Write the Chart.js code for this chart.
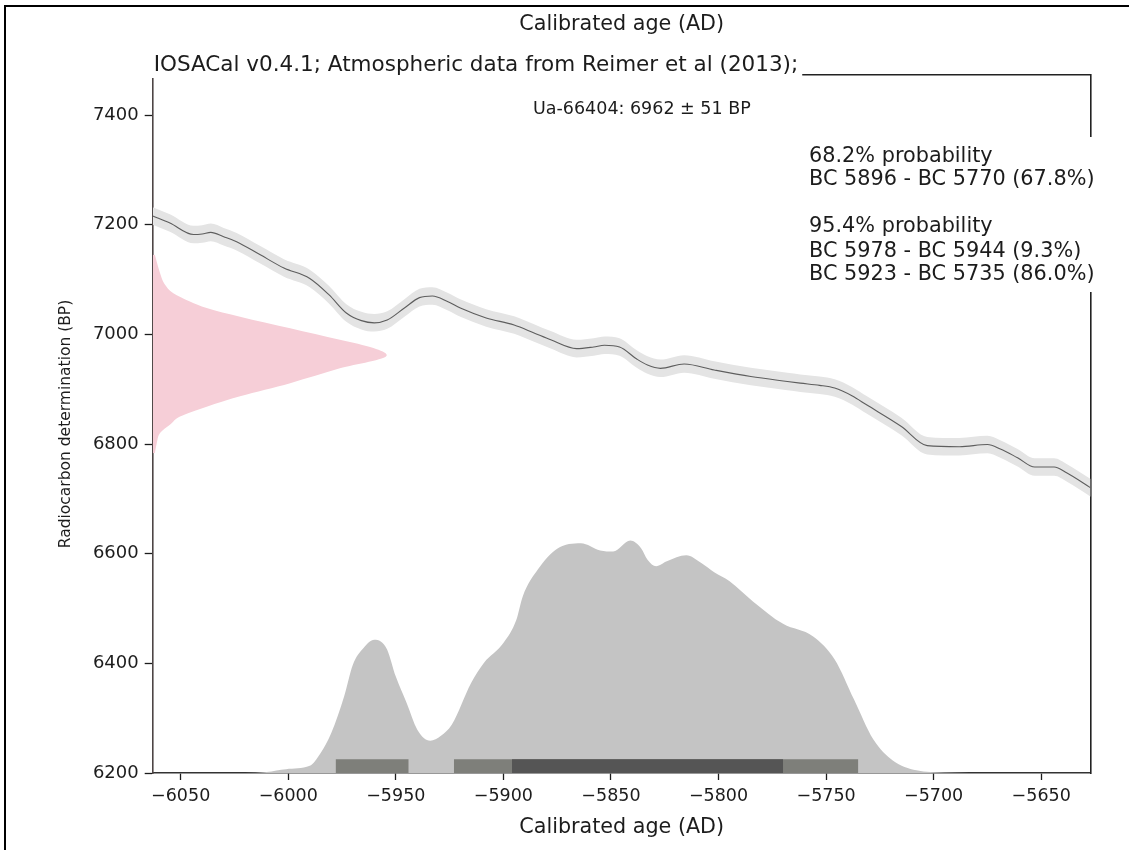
<!DOCTYPE html>
<html>
<head>
<meta charset="utf-8">
<title>Ua-66404 calibration</title>
<script src="https://cdn.jsdelivr.net/npm/chart.js@4.4.1/dist/chart.umd.min.js"></script>
<style>
  html, body { margin: 0; padding: 0; background: #fff; }
  #wrap { position: relative; width: 1129px; height: 850px; }
  #frame { position: absolute; left: 4px; top: 5px; right: 0; bottom: 0;
           border-top: 2px solid #000; border-left: 2px solid #000; pointer-events: none; }
</style>
</head>
<body>
<div id="wrap">
  <canvas id="calChart" width="1129" height="850"></canvas>
  <div id="frame"></div>
</div>
<script>
// axis ranges and ticks
const X_MIN = -6063, X_MAX = -5627;
const Y_MIN = 6200, Y_MAX = 7473;
const xTicks = [-6050, -6000, -5950, -5900, -5850, -5800, -5750, -5700, -5650];
const yTicks = [6200, 6400, 6600, 6800, 7000, 7200, 7400];

// calibration curve (IntCal13)
const curveYears = [-6063, -6055, -6044, -6040, -6036, -6030, -6024, -6013, -6002, -5990,
                    -5981, -5973, -5966, -5960, -5954, -5946, -5939, -5933, -5926, -5920,
                    -5908, -5895, -5886, -5878, -5866, -5858, -5853, -5846, -5838, -5833,
                    -5827, -5816, -5802, -5785, -5768, -5762, -5753, -5746, -5738, -5731,
                    -5715, -5703, -5688, -5675, -5669, -5661, -5653, -5644, -5638, -5627];
const curveBP = [7216, 7203, 7182, 7183, 7186, 7178, 7169, 7145, 7121, 7102,
                 7072, 7039, 7025, 7021, 7026, 7048, 7067, 7070, 7060, 7048,
                 7030, 7017, 7003, 6990, 6974, 6977, 6980, 6977, 6955, 6944,
                 6938, 6946, 6935, 6923, 6914, 6911, 6907, 6902, 6888, 6871,
                 6832, 6797, 6795, 6799, 6791, 6775, 6758, 6758, 6747, 6720];
const curveSigma = [16, 16, 16, 16, 16, 16, 16, 16, 16, 16,
                    16, 16, 16, 16, 16, 16, 16, 16, 16, 16,
                    16, 16, 16, 16, 16, 16, 16, 16, 16, 16,
                    16, 16, 16, 16, 16, 16, 16, 16, 16, 16,
                    16, 16, 16, 16, 16, 16, 16, 16, 16, 16];

// calibrated date distribution (drawn up from the 6200 baseline)
const calYears = [-6020, -6010, -6001, -5990, -5985, -5980, -5974, -5970, -5965, -5960,
                  -5957, -5954, -5950, -5945, -5940, -5934, -5929, -5924, -5915, -5909,
                  -5900, -5894, -5891, -5884, -5875, -5864, -5855, -5849, -5841, -5836,
                  -5833, -5829, -5824, -5815, -5808, -5802, -5795, -5784, -5770, -5756,
                  -5746, -5737, -5728, -5719, -5708, -5695, -5672];
const calDensity = [6200, 6202, 6207, 6213, 6236, 6273, 6340, 6397, 6428, 6443,
                    6440, 6425, 6376, 6328, 6279, 6259, 6268, 6288, 6364, 6401,
                    6437, 6479, 6522, 6571, 6609, 6619, 6606, 6604, 6624, 6610,
                    6589, 6577, 6586, 6597, 6583, 6566, 6550, 6513, 6472, 6449,
                    6407, 6334, 6261, 6223, 6205, 6201, 6200];

// radiocarbon determination, drawn sideways from the left axis
const dateBP = [6783, 6802, 6820, 6835, 6850, 6868, 6887, 6911, 6938, 6962,
                6975, 6990, 7011, 7032, 7048, 7060, 7075, 7092, 7112, 7145];
const dateDensity = [-6062, -6061.1, -6059.6, -6055, -6050.3, -6037.9, -6022.4, -5999.1, -5976, -5954.2,
                     -5960.4, -5976, -5999.1, -6022.4, -6037.9, -6045.7, -6053.4, -6057.5, -6059.6, -6062];

// highest density ranges
const hpd95 = [[-5978, -5944], [-5923, -5735]];
const hpd68 = [[-5896, -5770]];
const BAR_TOP = 6225;

const sampleLabel = 'Ua-66404: 6962 \u00b1 51 BP';
const headerLabel = 'IOSACal v0.4.1; Atmospheric data from Reimer et al (2013);';
const probLines = ['68.2% probability', 'BC 5896 - BC 5770 (67.8%)', '',
                   '95.4% probability', 'BC 5978 - BC 5944 (9.3%)', 'BC 5923 - BC 5735 (86.0%)'];

const FONT = '"DejaVu Sans", Verdana, sans-serif';
const INK = '#1c1c1c';

const zip = (xs, ys) => xs.map((x, i) => ({ x, y: ys[i] }));

function barSet(range, color) {
    return {
        data: [{ x: range[0], y: BAR_TOP }, { x: range[1], y: BAR_TOP }],
        borderWidth: 0,
        pointRadius: 0,
        backgroundColor: color,
        fill: { value: Y_MIN },
        tension: 0
    };
}

const datasets = [];
hpd68.forEach(r => datasets.push(barSet(r, '#555555')));
hpd95.forEach(r => datasets.push(barSet(r, '#7e7f7a')));
datasets.push({
    data: zip(calYears, calDensity),
    borderWidth: 0,
    pointRadius: 0,
    backgroundColor: '#c4c4c4',
    fill: { value: Y_MIN },
    cubicInterpolationMode: 'monotone'
});
datasets.push({
    data: zip(dateDensity, dateBP),
    indexAxis: 'y',
    borderWidth: 0,
    pointRadius: 0,
    backgroundColor: '#f6ced7',
    fill: { value: X_MIN },
    cubicInterpolationMode: 'monotone'
});
datasets.push({
    data: zip(curveYears, curveBP),
    borderColor: '#5e5e5e',
    borderWidth: 1.1,
    pointRadius: 0,
    fill: false,
    cubicInterpolationMode: 'monotone'
});
datasets.push({
    data: zip(curveYears, curveBP.map((v, i) => v + curveSigma[i])),
    borderWidth: 0,
    pointRadius: 0,
    fill: false,
    cubicInterpolationMode: 'monotone'
});
datasets.push({
    data: zip(curveYears, curveBP.map((v, i) => v - curveSigma[i])),
    borderWidth: 0,
    pointRadius: 0,
    backgroundColor: '#e4e4e4',
    fill: '-1',
    cubicInterpolationMode: 'monotone'
});

// texts that sit on white boxes over the frame
const textPlugin = {
    id: 'calTexts',
    afterDraw(chart) {
        const { ctx, chartArea } = chart;
        ctx.save();
        ctx.textBaseline = 'alphabetic';
        ctx.textAlign = 'left';

        ctx.font = '21.5px ' + FONT;
        const hw = ctx.measureText(headerLabel).width;
        ctx.fillStyle = '#fff';
        ctx.fillRect(chartArea.left - 1, chartArea.top - 22, hw + 6, 25);
        ctx.fillStyle = INK;
        ctx.fillText(headerLabel, chartArea.left + 1, chartArea.top - 4);

        ctx.font = '17.5px ' + FONT;
        ctx.fillText(sampleLabel, 533, 114);

        ctx.font = '20.8px ' + FONT;
        const pw = Math.max(...probLines.map(t => ctx.measureText(t).width));
        ctx.fillStyle = '#fff';
        ctx.fillRect(805, 137, pw + 8, 155);
        ctx.fillStyle = INK;
        const baselines = [162, 185, 208, 232, 257, 280];
        probLines.forEach((t, i) => ctx.fillText(t, 809, baselines[i]));
        ctx.restore();
    }
};

const ctx = document.getElementById('calChart').getContext('2d');
new Chart(ctx, {
    type: 'line',
    data: { datasets },
    plugins: [textPlugin],
    options: {
        responsive: false,
        animation: false,
        events: [],
        layout: { padding: 0 },
        plugins: { legend: { display: false }, tooltip: { enabled: false }, title: { display: false } },
        scales: {
            x: {
                type: 'linear', position: 'bottom', min: X_MIN, max: X_MAX,
                afterBuildTicks: s => { s.ticks = xTicks.map(v => ({ value: v })); },
                afterFit: s => { s.height = 77; },
                ticks: {
                    callback: v => String(v).replace('-', '\u2212'),
                    font: { family: FONT, size: 17.5 }, color: INK,
                    padding: 6, maxRotation: 0, autoSkip: false
                },
                grid: { drawOnChartArea: false, tickLength: 7, color: INK, tickWidth: 1.3 },
                border: { color: '#333', width: 1.6 },
                title: {
                    display: true, text: 'Calibrated age (AD)', color: INK,
                    font: { family: FONT, size: 20.7 }, padding: { top: 0, bottom: 9.5 }
                }
            },
            xTop: {
                type: 'linear', position: 'top', min: X_MIN, max: X_MAX,
                afterFit: s => { s.height = 75; },
                ticks: { display: false },
                grid: { display: false },
                border: { color: '#222', width: 1.6 },
                title: {
                    display: true, text: 'Calibrated age (AD)', color: INK,
                    font: { family: FONT, size: 20.7 }, padding: { top: 12.5, bottom: 0 }
                }
            },
            y: {
                type: 'linear', position: 'left', min: Y_MIN, max: Y_MAX,
                afterBuildTicks: s => { s.ticks = yTicks.map(v => ({ value: v })); },
                afterFit: s => { s.width = 152.7; },
                ticks: { callback: v => String(v), font: { family: FONT, size: 18 }, color: INK, padding: 6 },
                grid: { drawOnChartArea: false, tickLength: 8, color: INK, tickWidth: 1.3 },
                border: { color: '#4d4545', width: 1.6 },
                title: {
                    display: true, text: 'Radiocarbon determination (BP)', color: INK,
                    font: { family: FONT, size: 15.5 }, padding: { top: 57, bottom: 0 }
                }
            },
            yRight: {
                type: 'linear', position: 'right', min: Y_MIN, max: Y_MAX,
                afterFit: s => { s.width = 38.3; },
                ticks: { display: false },
                grid: { display: false },
                border: { color: '#222', width: 1.6 }
            }
        }
    }
});
</script>
</body>
</html>
